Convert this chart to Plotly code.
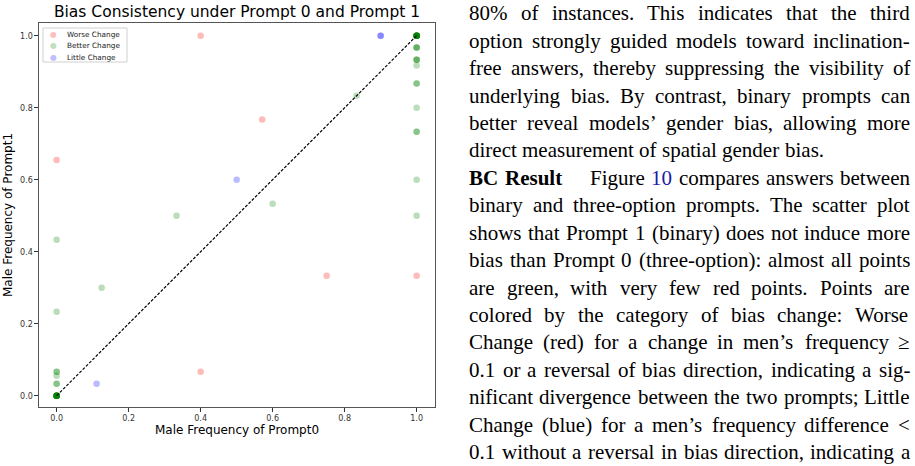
import plotly.graph_objects as go

# ---------------- data ----------------
worse_x = [0.4, 0.0, 0.571, 0.75, 1.0, 0.4]
worse_y = [1.0, 0.655, 0.767, 0.333, 0.333, 0.0667]
worse_n = [1, 1, 1, 1, 1, 1]

better_x = [0.0, 0.0, 0.0, 0.0, 0.0, 0.0, 0.125, 0.333, 0.6, 0.833,
            1.0, 1.0, 1.0, 1.0, 1.0, 1.0, 1.0, 1.0, 1.0]
better_y = [0.0, 0.0333, 0.0556, 0.0667, 0.233, 0.433, 0.3, 0.5, 0.533, 0.833,
            1.0, 0.967, 0.933, 0.917, 0.867, 0.8, 0.733, 0.6, 0.5]
better_n = [12, 2, 1, 2, 1, 1, 1, 1, 1, 1,
            12, 3, 3, 1, 2, 1, 2, 1, 1]

little_x = [0.9, 0.5, 0.111]
little_y = [1.0, 0.6, 0.0333]
little_n = [2, 1, 1]

x_ticks = [0.0, 0.2, 0.4, 0.6, 0.8, 1.0]
y_ticks = [0.0, 0.2, 0.4, 0.6, 0.8, 1.0]

legend_labels = ["Worse Change", "Better Change", "Little Change"]

paragraph_lines = [
    "80% of instances.  This indicates that the third",
    "option strongly guided models toward inclination-",
    "free answers, thereby suppressing the visibility of",
    "underlying bias. By contrast, binary prompts can",
    "better reveal models’ gender bias, allowing more",
    "direct measurement of spatial gender bias.",
    "**BC **Result|| Figure ##10 compares answers between",
    "binary and three-option prompts. The scatter plot",
    "shows that Prompt 1 (binary) does not induce more",
    "bias than Prompt 0 (three-option): almost all points",
    "are green, with very few red points.  Points are",
    "colored by the category of bias change:  Worse",
    "Change (red) for a change in men’s frequency ≥",
    "0.1 or a reversal of bias direction, indicating a sig-",
    "nificant divergence between the two prompts; Little",
    "Change (blue) for a men’s frequency difference <",
    "0.1 without a reversal in bias direction, indicating a",
]
justified = [True, True, True, True, True, False, True, True, True, True,
             True, True, True, True, True, True, True]

# ---------------- styles ----------------
W_PX, H_PX = 915, 466
RED = "rgba(255,0,0,0.27)"
GREEN = "rgba(0,128,0,0.27)"
BLUE = "rgba(0,0,255,0.27)"


def expand(xs, ys, ns):
    ox, oy = [], []
    for a, b, n in zip(xs, ys, ns):
        ox += [a] * n
        oy += [b] * n
    return ox, oy


def px(x):
    return x / W_PX


def py(y):
    return 1 - y / H_PX


fig = go.Figure()
for (xs, ys, ns), col, name in [((worse_x, worse_y, worse_n), RED, legend_labels[0]),
                                ((better_x, better_y, better_n), GREEN, legend_labels[1]),
                                ((little_x, little_y, little_n), BLUE, legend_labels[2])]:
    ex, ey = expand(xs, ys, ns)
    fig.add_trace(go.Scatter(x=ex, y=ey, mode="markers", name=name,
                             marker=dict(color=col, size=6.5, line=dict(width=0)),
                             showlegend=False))

fig.add_trace(go.Scatter(x=[0, 1], y=[0, 1], mode="lines", showlegend=False,
                         line=dict(color="black", width=1.2, dash="3px,1.6px")))

tickfont = dict(family="DejaVu Sans", size=8, color="#333")
fig.update_layout(
    width=W_PX, height=H_PX, margin=dict(l=0, r=0, t=0, b=0),
    paper_bgcolor="white", plot_bgcolor="white",
    title=dict(text="Bias Consistency under Prompt 0 and Prompt 1",
               font=dict(family="DejaVu Sans", size=15.5, color="black"),
               x=237 / W_PX, xanchor="center", y=py(12), yanchor="middle"),
    xaxis=dict(domain=[px(39), px(435)], range=[-0.049, 1.051],
               tickvals=x_ticks, ticktext=[f"{v:.1f}" for v in x_ticks],
               ticks="outside", ticklen=3.5, tickcolor="#333", tickwidth=1,
               tickfont=tickfont, showgrid=False, zeroline=False,
               showline=True, linecolor="#555", linewidth=1.2, mirror=True,
               title=dict(text="Male Frequency of Prompt0", standoff=3,
                          font=dict(family="DejaVu Sans", size=12, color="black"))),
    yaxis=dict(domain=[py(407), py(23)], range=[-0.0314, 1.0353],
               tickvals=y_ticks, ticktext=[f"{v:.1f}" for v in y_ticks],
               ticks="outside", ticklen=3.5, tickcolor="#333", tickwidth=1,
               tickfont=tickfont, showgrid=False, zeroline=False,
               showline=True, linecolor="#555", linewidth=1.2, mirror=True,
               title=dict(text="Male Frequency of Prompt1", standoff=4,
                          font=dict(family="DejaVu Sans", size=12, color="black"))),
)

# ---------------- legend (upper left, inside axes) ----------------
fig.add_shape(type="rect", xref="paper", yref="paper",
              x0=px(43), x1=px(127), y0=py(62), y1=py(28),
              line=dict(color="#d0d0d0", width=1), fillcolor="rgba(255,255,255,0.8)")
for i, (lab, col) in enumerate(zip(legend_labels, [RED, GREEN, BLUE])):
    yy = 34 + 11.5 * i
    fig.add_annotation(x=px(53), y=py(yy), xref="paper", yref="paper",
                       text="●", showarrow=False, xanchor="center", yanchor="middle",
                       font=dict(family="DejaVu Sans", size=8, color=col), borderpad=0)
    fig.add_annotation(x=px(66), y=py(yy), xref="paper", yref="paper",
                       text=lab, showarrow=False, xanchor="left", yanchor="middle",
                       font=dict(family="DejaVu Sans", size=7.3, color="#222"), borderpad=0)

# ---------------- paragraph text (justified, Times metrics) ----------------
TIMES = {' ': 250, 'a': 444, 'b': 500, 'c': 444, 'd': 500, 'e': 444, 'f': 333, 'g': 500,
         'h': 500, 'i': 278, 'j': 278, 'k': 500, 'l': 278, 'm': 778, 'n': 500, 'o': 500,
         'p': 500, 'q': 500, 'r': 333, 's': 389, 't': 278, 'u': 500, 'v': 500, 'w': 722,
         'x': 500, 'y': 500, 'z': 444, 'A': 722, 'B': 667, 'C': 667, 'D': 722, 'E': 611,
         'F': 556, 'G': 722, 'H': 722, 'I': 333, 'J': 389, 'K': 722, 'L': 611, 'M': 889,
         'N': 722, 'O': 722, 'P': 556, 'Q': 722, 'R': 667, 'S': 556, 'T': 611, 'U': 722,
         'V': 722, 'W': 944, 'X': 722, 'Y': 722, 'Z': 611, '.': 250, ',': 250, ':': 278,
         ';': 278, '-': 333, '(': 333, ')': 333, '’': 333, '%': 833, '≥': 549, '<': 564}
TIMES_BOLD = {'B': 667, 'C': 722, 'R': 722, 'e': 444, 's': 389, 'u': 556, 'l': 278, 't': 333}
FS = 21
L, R = 468, 909
Y0, DY = 13.5, 27.4


def wwidth(word, bold=False):
    tab = TIMES_BOLD if bold else TIMES
    return sum(tab.get(c, TIMES.get(c, 500)) for c in word) / 1000 * FS


for i, line in enumerate(paragraph_lines):
    yy = Y0 + DY * i
    words = [w for w in line.split(" ") if w != ""]
    items = []
    for w in words:
        bold = False
        color = "black"
        extra = 0
        if w.startswith("**"):
            bold = True
            w = w.replace("**", "")
        if w.endswith("||"):
            w = w[:-2]
            extra = 1.0 * FS
        if w.startswith("##"):
            w = w[2:]
            color = "#1a1aa6"
        items.append((w, bold, color, extra))
    natural = sum(wwidth(w, b) + e for w, b, c, e in items)
    gaps = len(items) - 1
    gap = (R - L - natural) / gaps if (justified[i] and gaps > 0) else 0.25 * FS
    x = L
    for w, b, c, e in items:
        txt = f"<b>{w}</b>" if b else w
        fig.add_annotation(x=px(x), y=py(yy), xref="paper", yref="paper",
                           text=txt, showarrow=False, xanchor="left", yanchor="middle",
                           borderpad=0,
                           font=dict(family="Liberation Serif", size=FS, color=c))
        x += wwidth(w, b) + e + gap

fig.write_html("out.html")
